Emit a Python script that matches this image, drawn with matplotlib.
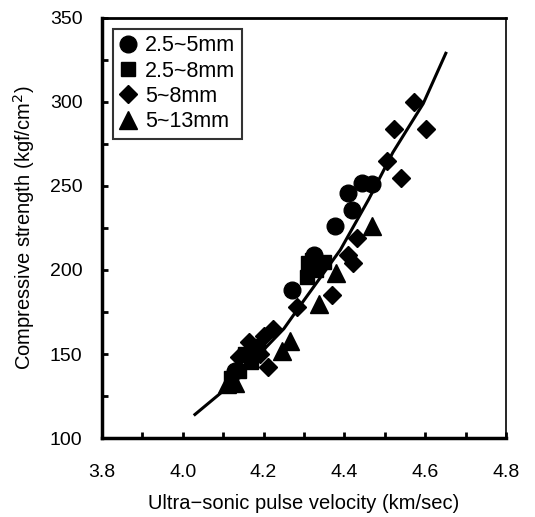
import numpy as np
import matplotlib.pyplot as plt
from matplotlib.ticker import MultipleLocator

plt.rcParams['font.family'] = ['Liberation Sans', 'DejaVu Sans']

# values (velocity km/sec, strength kgf/cm2)
v_c1 = [4.27, 4.325, 4.377, 4.418, 4.41, 4.443, 4.468, 4.17, 4.13]
s_c1 = [188, 209, 226, 236, 246, 252, 251, 150, 140]

v_s2 = [4.31, 4.307, 4.32, 4.35, 4.155, 4.17, 4.14, 4.12, 4.185, 4.33]
s_s2 = [204, 196, 206, 205, 150, 145, 140, 136, 155, 200]

v_d3 = [4.572, 4.523, 4.602, 4.505, 4.539, 4.431, 4.41, 4.422, 4.369,
        4.282, 4.223, 4.20, 4.165, 4.14, 4.21, 4.19]
s_d3 = [300, 284, 284, 265, 255, 219, 209, 204, 185,
        178, 165, 161, 157, 148, 142, 150]

v_t4 = [4.468, 4.38, 4.336, 4.265, 4.245, 4.13, 4.11]
s_t4 = [226, 198, 180, 158, 152, 133, 132]

# regression curve
v_fit = [4.03, 4.11, 4.25, 4.30, 4.39, 4.46, 4.52, 4.595, 4.651]
s_fit = [114, 130, 165, 182, 212, 242, 270, 299, 329]

fig = plt.figure(figsize=(5.35, 5.17), dpi=100)
ax = fig.add_axes([0.1907, 0.1528, 0.7551, 0.8124])

ax.plot(v_fit, s_fit, color='black', lw=2.2, zorder=2)
ax.plot(v_c1, s_c1, 'o', color='black', ms=12, ls='none', label='2.5~5mm', zorder=3)
ax.plot(v_s2, s_s2, 's', color='black', ms=10, ls='none', label='2.5~8mm', zorder=3)
ax.plot(v_d3, s_d3, 'D', color='black', ms=9.5, ls='none', label='5~8mm', zorder=3)
ax.plot(v_t4, s_t4, '^', color='black', ms=13, ls='none', label='5~13mm', zorder=3)

ax.set_xlim(3.8, 4.8)
ax.set_ylim(100, 350)
ax.xaxis.set_major_locator(MultipleLocator(0.2))
ax.xaxis.set_minor_locator(MultipleLocator(0.1))
ax.yaxis.set_major_locator(MultipleLocator(50))
ax.yaxis.set_minor_locator(MultipleLocator(25))
ax.xaxis.set_major_formatter(plt.FuncFormatter(lambda x, p: '%.1f' % x))
ax.tick_params(axis='both', which='both', direction='in', width=2, top=False, right=False)
ax.tick_params(axis='both', which='major', length=4, labelsize=14)
ax.tick_params(axis='both', which='minor', length=4)
ax.tick_params(axis='x', which='major', pad=19)
ax.tick_params(axis='y', which='major', pad=14)

for sp in ax.spines.values():
    sp.set_linewidth(2.5)
ax.spines['right'].set_linewidth(1.2)
ax.spines['top'].set_linewidth(2.0)

ax.set_xlabel('Ultra\u2212sonic pulse velocity (km/sec)', fontsize=14.5, labelpad=9)
ax.set_ylabel('Compressive strength (kgf/cm$^2$)', fontsize=14.5, labelpad=9)

leg = ax.legend(loc='upper left', fontsize=15.5, frameon=True, fancybox=False,
                handlelength=0.8, handletextpad=0.4, borderpad=0.3,
                labelspacing=0.2, borderaxespad=0.5)
leg.get_frame().set_edgecolor('black')
leg.get_frame().set_linewidth(1.5)

fig.savefig('out.png', dpi=100)
